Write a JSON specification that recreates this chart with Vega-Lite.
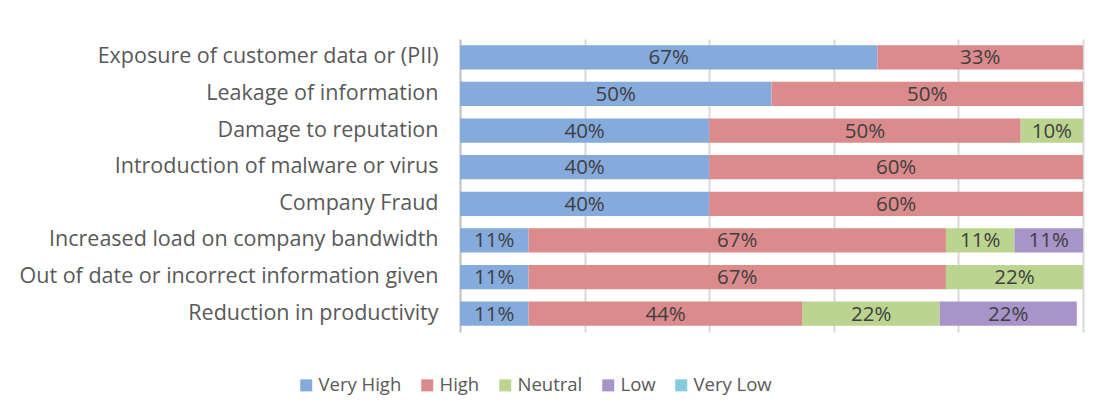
{
  "$schema": "https://vega.github.io/schema/vega-lite/v6.json",
  "width": 623,
  "height": 293,
  "autosize": {"type": "none"},
  "padding": {"left": 460, "top": 39, "right": 18, "bottom": 82},
  "background": "white",
  "config": {
    "font": "Open Sans",
    "view": {"stroke": null}
  },
  "data": {
    "values": [
      {"risk": "Exposure of customer data or (PII)", "level": "Very High", "rank": 1, "share": 0.67},
      {"risk": "Exposure of customer data or (PII)", "level": "High", "rank": 2, "share": 0.33},
      {"risk": "Leakage of information", "level": "Very High", "rank": 1, "share": 0.50},
      {"risk": "Leakage of information", "level": "High", "rank": 2, "share": 0.50},
      {"risk": "Damage to reputation", "level": "Very High", "rank": 1, "share": 0.40},
      {"risk": "Damage to reputation", "level": "High", "rank": 2, "share": 0.50},
      {"risk": "Damage to reputation", "level": "Neutral", "rank": 3, "share": 0.10},
      {"risk": "Introduction of malware or virus", "level": "Very High", "rank": 1, "share": 0.40},
      {"risk": "Introduction of malware or virus", "level": "High", "rank": 2, "share": 0.60},
      {"risk": "Company Fraud", "level": "Very High", "rank": 1, "share": 0.40},
      {"risk": "Company Fraud", "level": "High", "rank": 2, "share": 0.60},
      {"risk": "Increased load on company bandwidth", "level": "Very High", "rank": 1, "share": 0.11},
      {"risk": "Increased load on company bandwidth", "level": "High", "rank": 2, "share": 0.67},
      {"risk": "Increased load on company bandwidth", "level": "Neutral", "rank": 3, "share": 0.11},
      {"risk": "Increased load on company bandwidth", "level": "Low", "rank": 4, "share": 0.11},
      {"risk": "Out of date or incorrect information given", "level": "Very High", "rank": 1, "share": 0.11},
      {"risk": "Out of date or incorrect information given", "level": "High", "rank": 2, "share": 0.67},
      {"risk": "Out of date or incorrect information given", "level": "Neutral", "rank": 3, "share": 0.22},
      {"risk": "Reduction in productivity", "level": "Very High", "rank": 1, "share": 0.11},
      {"risk": "Reduction in productivity", "level": "High", "rank": 2, "share": 0.44},
      {"risk": "Reduction in productivity", "level": "Neutral", "rank": 3, "share": 0.22},
      {"risk": "Reduction in productivity", "level": "Low", "rank": 4, "share": 0.22}
    ]
  },
  "encoding": {
    "y": {
      "field": "risk",
      "type": "nominal",
      "sort": null,
      "scale": {"paddingInner": 0.34, "paddingOuter": 0.17},
      "axis": {
        "title": null,
        "domain": true,
        "domainColor": "#bfbfbf",
        "domainWidth": 2,
        "ticks": false,
        "labelPadding": 22,
        "labelFontSize": 21.5,
        "labelColor": "#595959",
        "labelFont": "Open Sans",
        "labelLimit": 500
      }
    },
    "order": {"field": "rank", "type": "quantitative", "sort": "ascending"}
  },
  "layer": [
    {
      "mark": {"type": "bar"},
      "encoding": {
        "x": {
          "field": "share",
          "type": "quantitative",
          "stack": "zero",
          "scale": {"domain": [0, 1], "nice": false},
          "axis": {
            "title": null,
            "labels": false,
            "ticks": false,
            "domain": false,
            "grid": true,
            "gridColor": "#d9d9d9",
            "gridWidth": 2,
            "values": [0.2, 0.4, 0.6, 0.8, 1.0]
          }
        },
        "color": {
          "field": "level",
          "type": "nominal",
          "sort": ["Very High", "High", "Neutral", "Low", "Very Low"],
          "scale": {
            "domain": ["Very High", "High", "Neutral", "Low", "Very Low"],
            "range": ["#85aadc", "#dc8b8c", "#bbd48f", "#a794c8", "#86cade"]
          },
          "legend": {
            "title": null,
            "orient": "none",
            "direction": "horizontal",
            "legendX": -163,
            "legendY": 337,
            "symbolType": "square",
            "symbolSize": 144,
            "symbolStrokeWidth": 0,
            "labelFontSize": 18.5,
            "labelColor": "#595959",
            "labelFont": "Open Sans",
            "columnPadding": 16,
            "labelOffset": 3
          }
        }
      }
    },
    {
      "mark": {"type": "text", "fontSize": 20.5, "color": "#404040", "font": "Open Sans", "dy": 1},
      "encoding": {
        "x": {"field": "share", "type": "quantitative", "stack": "zero", "bandPosition": 0.5},
        "detail": {"field": "level", "type": "nominal"},
        "text": {"field": "share", "type": "quantitative", "format": ".0%"}
      }
    }
  ]
}
